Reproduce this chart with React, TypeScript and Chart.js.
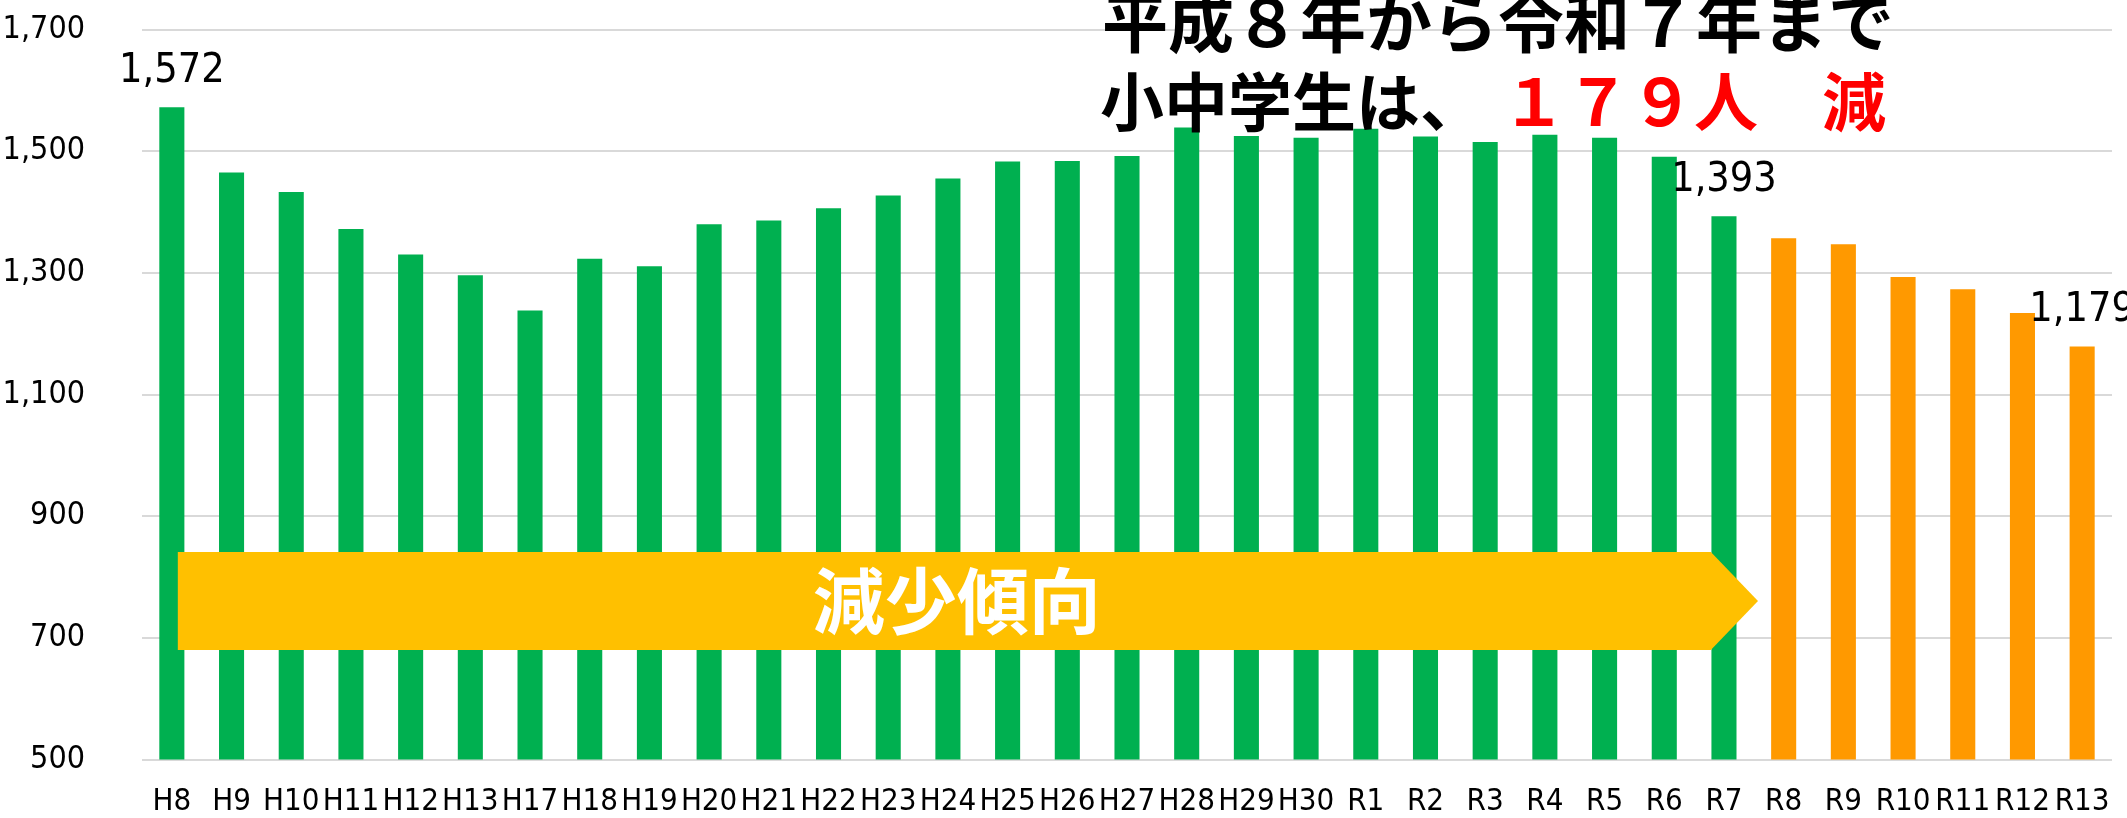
import React, { useEffect, useRef } from "react";
import { Chart, registerables } from "chart.js";

Chart.register(...registerables);

const categories = [
  "H8", "H9", "H10", "H11", "H12", "H13", "H17", "H18", "H19", "H20", "H21",
  "H22", "H23", "H24", "H25", "H26", "H27", "H28", "H29", "H30", "R1", "R2",
  "R3", "R4", "R5", "R6", "R7", "R8", "R9", "R10", "R11", "R12", "R13",
];

// Actual counts H8 .. R7
const actualValues = [
  1572, 1465, 1433, 1372, 1330, 1296, 1238, 1323, 1311, 1380, 1386,
  1406, 1427, 1455, 1483, 1484, 1492, 1539, 1525, 1522, 1537, 1524,
  1515, 1527, 1522, 1491, 1393,
];

// Projected counts R8 .. R13
const projectedValues = [1357, 1347, 1293, 1273, 1234, 1179];

const yTicks = [500, 700, 900, 1100, 1300, 1500, 1700];

const labeledCategories = ["H8", "R7", "R13"];

const titleLine1 = "平成８年から令和７年まで";
const titleLine2Black = "小中学生は、";
const titleLine2Red = "１７９人　減";
const arrowText = "減少傾向";

const GREEN = "#00B050";
const ORANGE = "#FF9900";
const ARROW = "#FFC000";
const NARROW = '"DejaVu Sans Condensed", "DejaVu Sans", sans-serif';
const CJK = '"Noto Sans CJK JP", sans-serif';

export default function App() {
  const canvasRef = useRef<HTMLCanvasElement | null>(null);

  useEffect(() => {
    document.body.style.margin = "0";
    const canvas = canvasRef.current;
    if (!canvas) return;

    const values = [...actualValues, ...projectedValues];
    const colors = values.map((_, i) => (i < actualValues.length ? GREEN : ORANGE));

    const overlay = {
      id: "overlay",
      afterDatasetsDraw(chart: any) {
        const ctx = chart.ctx as CanvasRenderingContext2D;
        const area = chart.chartArea;
        const yScale = chart.scales.y;
        const n = categories.length;
        const step = (area.right - area.left) / n;
        const xAt = (idx: number) => area.left + (idx + 0.5) * step;

        // Arrow ("減少傾向")
        const aTop = yScale.getPixelForValue(841);
        const aBot = yScale.getPixelForValue(680);
        const aLeft = xAt(0.1);
        const aBody = xAt(25.78);
        const aTip = xAt(26.57);
        ctx.save();
        ctx.fillStyle = ARROW;
        ctx.beginPath();
        ctx.moveTo(aLeft, aTop);
        ctx.lineTo(aBody, aTop);
        ctx.lineTo(aTip, (aTop + aBot) / 2);
        ctx.lineTo(aBody, aBot);
        ctx.lineTo(aLeft, aBot);
        ctx.closePath();
        ctx.fill();
        ctx.fillStyle = "#FFFFFF";
        ctx.font = `bold 72px ${CJK}`;
        ctx.textAlign = "center";
        ctx.textBaseline = "middle";
        ctx.fillText(arrowText, xAt(13.15), (aTop + aBot) / 2);
        ctx.restore();

        // Data labels
        const meta = chart.getDatasetMeta(0);
        ctx.save();
        ctx.fillStyle = "#000000";
        ctx.font = `41px ${NARROW}`;
        ctx.textAlign = "center";
        ctx.textBaseline = "middle";
        labeledCategories.forEach((c) => {
          const i = categories.indexOf(c);
          const el = meta.data[i];
          ctx.fillText(values[i].toLocaleString("en-US"), el.x, el.y - 36);
        });
        ctx.restore();

        // Title
        ctx.save();
        ctx.textAlign = "left";
        ctx.textBaseline = "middle";
        ctx.fillStyle = "#000000";
        ctx.font = `bold 66px ${CJK}`;
        ctx.fillText(titleLine1, 1102, 22);
        ctx.font = `bold 64px ${CJK}`;
        ctx.fillText(titleLine2Black, 1100, 102);
        ctx.fillStyle = "#FF0000";
        ctx.fillText(titleLine2Red, 1502, 102);
        ctx.restore();
      },
    };

    const chart = new Chart(canvas, {
      type: "bar",
      data: {
        labels: categories,
        datasets: [
          {
            data: values,
            backgroundColor: colors,
            borderWidth: 0,
            barPercentage: 0.42,
            categoryPercentage: 1,
          },
        ],
      },
      options: {
        responsive: false,
        animation: false,
        layout: { padding: { top: 29.5, right: 15, left: 0, bottom: 0 } },
        plugins: {
          legend: { display: false },
          tooltip: { enabled: false },
          title: { display: false },
        },
        scales: {
          x: {
            grid: { display: false, drawTicks: false },
            border: { display: false },
            ticks: {
              color: "#000000",
              font: { family: NARROW, size: 31 },
              padding: 24,
              maxRotation: 0,
              autoSkip: false,
            },
            afterFit(scale: any) {
              scale.height = 58.5;
              scale.paddingLeft = 0;
              scale.paddingRight = 0;
            },
          },
          y: {
            min: 500,
            max: 1700,
            afterBuildTicks(scale: any) {
              scale.ticks = yTicks.map((v) => ({ value: v }));
            },
            grid: { color: "#D9D9D9", lineWidth: 2, drawTicks: false },
            border: { display: false },
            ticks: {
              color: "#000000",
              font: { family: NARROW, size: 32 },
              padding: 57,
              callback: (v: any) => Number(v).toLocaleString("en-US"),
            },
            afterFit(scale: any) {
              scale.width = 142;
              scale.paddingTop = 0;
              scale.paddingBottom = 0;
            },
          },
        },
      },
      plugins: [overlay],
    });

    return () => chart.destroy();
  }, []);

  return (
    <div style={{ width: 2127, height: 818 }}>
      <canvas ref={canvasRef} width={2127} height={818} style={{ display: "block" }} />
    </div>
  );
}
